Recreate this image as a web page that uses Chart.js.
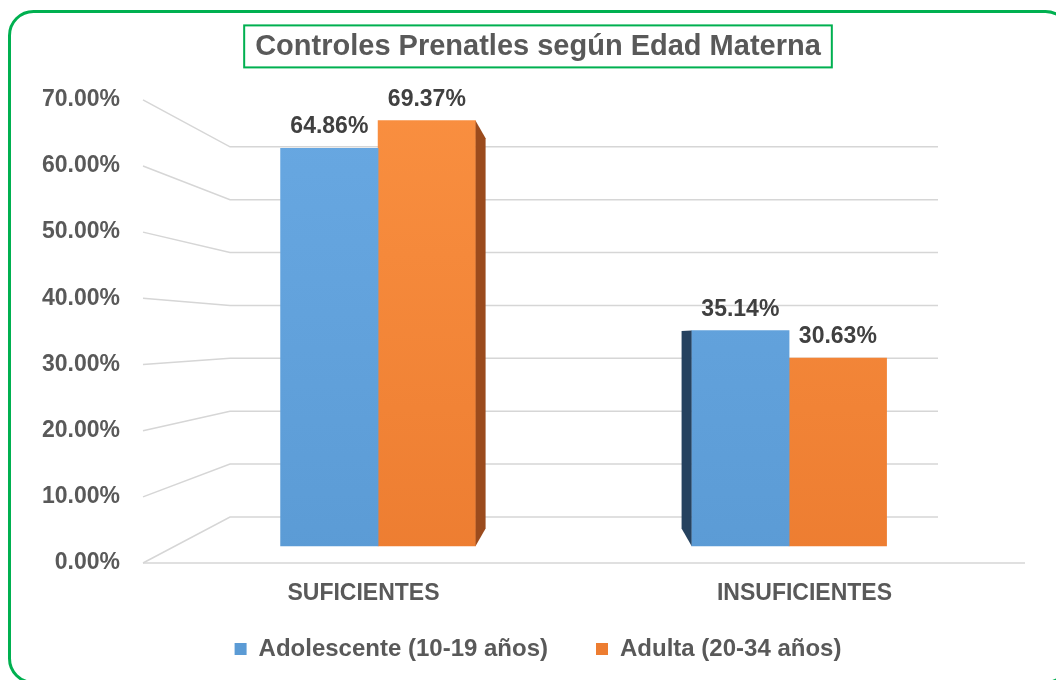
<!DOCTYPE html>
<html>
<head>
<meta charset="utf-8">
<title>Controles Prenatales según Edad Materna</title>
<script src="https://cdn.jsdelivr.net/npm/chart.js@4.4.1/dist/chart.umd.min.js"></script>
<style>
  html, body { margin: 0; padding: 0; background: #fff; }
  canvas { display: block; }
</style>
</head>
<body>
<canvas id="chart" width="1056" height="680"></canvas>
<script>
// Values
const categories = ['SUFICIENTES', 'INSUFICIENTES'];
const seriesNames = ['Adolescente (10-19 años)', 'Adulta (20-34 años)'];
const adolescente = [64.86, 35.14];
const adulta = [69.37, 30.63];
const yTicks = [0, 10, 20, 30, 40, 50, 60, 70];

const FONT = "'Liberation Sans', Arial, sans-serif";
const TEXT = '#595959';
const GRID = '#d6d6d6';
const GREEN = '#00b050';

// fake 3D: bars sit on a plane in front of the back wall,
// the tick labels belong to the outer (front) edge of the side wall
const WALL_DEPTH = 87;     // px the back wall is inset on each side
const SIDE_DX = 10;        // px width of a bar's visible side face
const SIDE_T = 0.6;        // how far the bar reaches towards the back wall
const sideColors = ['#26425f', '#9b4b1d'];

function shade(top, bottom) {
    return function(ctx) {
        const area = ctx.chart.chartArea;
        if (!area) return bottom;
        const g = ctx.chart.ctx.createLinearGradient(0, area.top, 0, area.bottom);
        g.addColorStop(0, top);
        g.addColorStop(1, bottom);
        return g;
    };
}

// axis boxes are kept tight for the layout; widen them afterwards so the
// tick labels are not clipped
const unclip = {
    id: 'unclip',
    afterLayout(chart) {
        const { x, y } = chart.scales;
        y.left = 0;
        x.bottom = chart.height;
    }
};

const frame = {
    id: 'frame',
    beforeDraw(chart) {
        const { ctx, width, height } = chart;
        ctx.save();
        ctx.fillStyle = '#fff';
        ctx.fillRect(0, 0, width, height);
        ctx.strokeStyle = GREEN;
        ctx.lineWidth = 3;
        ctx.beginPath();
        ctx.roundRect(9.5, 11.5, 1060, 671, 24);
        ctx.stroke();
        ctx.restore();
    },
    afterDraw(chart) {
        // box round the title
        const tb = chart.titleBlock;
        if (!tb) return;
        const { ctx } = chart;
        ctx.save();
        ctx.font = 'bold 29px ' + FONT;
        const w = ctx.measureText(chart.options.plugins.title.text).width;
        const cx = (tb.left + tb.right) / 2;
        const mid = tb.top + 30 + 17.4;
        ctx.strokeStyle = GREEN;
        ctx.lineWidth = 2;
        ctx.strokeRect(cx - w / 2 - 11, mid - 22, w + 22, 42);
        ctx.restore();
    }
};

const wall3d = {
    id: 'wall3d',
    beforeDatasetsDraw(chart) {
        const { ctx, chartArea: a, scales: { y, yBack } } = chart;
        const backL = a.left + WALL_DEPTH, backR = a.right - WALL_DEPTH;
        ctx.save();
        ctx.strokeStyle = GRID;
        ctx.lineWidth = 1.5;
        y.ticks.forEach(t => {
            const y0 = y.getPixelForValue(t.value);
            const y1 = yBack.getPixelForValue(t.value);
            ctx.beginPath();
            ctx.moveTo(a.left, y0);
            ctx.lineTo(backL, y1);
            ctx.lineTo(backR, y1);
            ctx.stroke();
        });
        // front edge of the floor
        const yf = y.getPixelForValue(0);
        ctx.beginPath();
        ctx.moveTo(a.left, yf);
        ctx.lineTo(a.right, yf);
        ctx.stroke();
        ctx.restore();
    }
};

const barSides = {
    id: 'barSides',
    afterDatasetsDraw(chart) {
        const { ctx, chartArea, scales: { yBar, yBack } } = chart;
        const mid = (chartArea.left + chartArea.right) / 2;
        const last = chart.data.datasets.length - 1;
        const backY = v => {
            const f = yBar.getPixelForValue(v);
            return f + SIDE_T * (yBack.getPixelForValue(v) - f);
        };
        categories.forEach((c, i) => {
            const first = chart.getDatasetMeta(0).data[i];
            const lastBar = chart.getDatasetMeta(last).data[i];
            const leftSide = (first.x + lastBar.x) / 2 > mid;
            const ds = leftSide ? 0 : last;
            const bar = leftSide ? first : lastBar;
            const value = chart.data.datasets[ds].data[i].y;
            const edge = leftSide ? bar.x - bar.width / 2 : bar.x + bar.width / 2;
            const dx = leftSide ? -SIDE_DX : SIDE_DX;
            ctx.save();
            ctx.fillStyle = sideColors[ds];
            ctx.beginPath();
            ctx.moveTo(edge, bar.y);
            ctx.lineTo(edge + dx, backY(value));
            ctx.lineTo(edge + dx, backY(0));
            ctx.lineTo(edge, bar.base);
            ctx.closePath();
            ctx.fill();
            ctx.restore();
        });
    }
};

const valueLabels = {
    id: 'valueLabels',
    afterDatasetsDraw(chart) {
        const { ctx } = chart;
        ctx.save();
        ctx.font = 'bold 23px ' + FONT;
        ctx.fillStyle = '#404040';
        ctx.textAlign = 'center';
        ctx.textBaseline = 'alphabetic';
        chart.data.datasets.forEach((ds, d) => {
            chart.getDatasetMeta(d).data.forEach((bar, i) => {
                ctx.fillText(ds.data[i].y.toFixed(2) + '%', bar.x, bar.y - 15);
            });
        });
        ctx.restore();
    }
};

new Chart(document.getElementById('chart'), {
    type: 'bar',
    data: {
        labels: categories,
        datasets: [
            {
                label: seriesNames[0],
                data: adolescente.map((v, i) => ({ x: i, y: v })),
                backgroundColor: shade('#68a8e2', '#5b9bd5'),
                xAxisID: 'xBar',
                yAxisID: 'yBar'
            },
            {
                label: seriesNames[1],
                data: adulta.map((v, i) => ({ x: i, y: v })),
                backgroundColor: shade('#f98f40', '#ed7d31'),
                xAxisID: 'xBar',
                yAxisID: 'yBar'
            }
        ]
    },
    options: {
        responsive: false,
        animation: false,
        barThickness: 97.5,
        borderWidth: 0,
        layout: { padding: { top: 0, left: 51, right: 31, bottom: 9 } },
        plugins: {
            title: {
                display: true,
                text: 'Controles Prenatles según Edad Materna',
                color: TEXT,
                font: { family: FONT, size: 29, weight: 'bold' },
                padding: { top: 30, bottom: 35 }
            },
            legend: {
                position: 'bottom',
                labels: {
                    boxWidth: 12,
                    boxHeight: 12,
                    padding: 48,
                    color: TEXT,
                    font: { family: FONT, size: 24, weight: 'bold' }
                }
            },
            tooltip: { enabled: false }
        },
        scales: {
            x: {
                type: 'category',
                offset: true,
                grid: { display: false, drawTicks: false },
                border: { display: false },
                ticks: { color: TEXT, padding: 17, font: { family: FONT, size: 23, weight: 'bold' } },
                afterFit: s => { s.height = 26; }
            },
            xBar: {
                type: 'linear',
                display: false,
                offset: false,
                min: -0.572,
                max: 1.574
            },
            y: {
                type: 'linear',
                position: 'left',
                min: 0,
                max: 70,
                afterBuildTicks: s => { s.ticks = yTicks.map(v => ({ value: v })); },
                ticks: {
                    color: TEXT,
                    padding: 23,
                    font: { family: FONT, size: 23, weight: 'bold' },
                    callback: v => v.toFixed(2) + '%'
                },
                grid: { display: false, drawTicks: false },
                border: { display: false },
                afterFit: s => { s.width = 92; }
            },
            // plane the bars stand on
            yBar: { type: 'linear', display: false, min: -2.77, max: 72.77 },
            // back wall of the 3D box
            yBack: { type: 'linear', display: false, min: -8.70, max: 78.89 }
        }
    },
    plugins: [unclip, frame, wall3d, barSides, valueLabels]
});
</script>
</body>
</html>
